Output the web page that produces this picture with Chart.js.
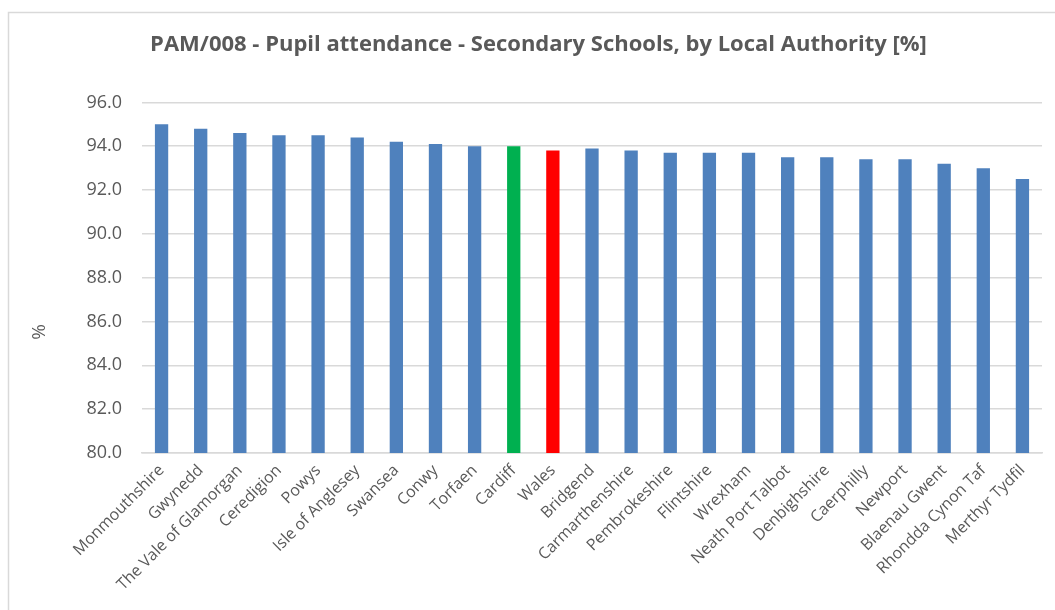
<!DOCTYPE html>
<html lang="en">
<head>
  <meta charset="UTF-8" />
  <title>PAM/008 - Pupil attendance - Secondary Schools</title>
  <script src="https://cdn.jsdelivr.net/npm/chart.js"></script>
  <style>
    body { margin: 0; background: #fff; }
    #wrap { width: 1055px; height: 610px; position: relative; }
  </style>
</head>
<body>
  <div id="wrap"><canvas id="attendanceChart"></canvas></div>

  <script>
    const authorities = [
      'Monmouthshire', 'Gwynedd', 'The Vale of Glamorgan', 'Ceredigion', 'Powys',
      'Isle of Anglesey', 'Swansea', 'Conwy', 'Torfaen', 'Cardiff', 'Wales',
      'Bridgend', 'Carmarthenshire', 'Pembrokeshire', 'Flintshire', 'Wrexham',
      'Neath Port Talbot', 'Denbighshire', 'Caerphilly', 'Newport', 'Blaenau Gwent',
      'Rhondda Cynon Taf', 'Merthyr Tydfil'
    ];
    const attendance = [
      95.0, 94.8, 94.6, 94.5, 94.5, 94.4, 94.2, 94.1, 94.0, 94.0, 93.8,
      93.9, 93.8, 93.7, 93.7, 93.7, 93.5, 93.5, 93.4, 93.4, 93.2, 93.0, 92.5
    ];
    const yTicks = [80, 82, 84, 86, 88, 90, 92, 94, 96];
    const yTitle = '%';

    const barColours = authorities.map(name =>
      name === 'Cardiff' ? '#00B050' : name === 'Wales' ? '#FF0000' : '#4F81BD'
    );

    // grey frame of the chart area + the rotated "%" axis title
    const frame = {
      id: 'frame',
      beforeDraw(chart) {
        const ctx = chart.ctx;
        ctx.save();
        ctx.strokeStyle = '#d9d9d9';
        ctx.lineWidth = 1.5;
        ctx.strokeRect(8.5, 12.5, 1100, 700);
        ctx.restore();
      },
      afterDraw(chart) {
        const ctx = chart.ctx;
        ctx.save();
        ctx.translate(40, 332);
        ctx.rotate(-Math.PI / 2);
        ctx.fillStyle = '#595959';
        ctx.font = '19px "Open Sans"';
        ctx.textAlign = 'center';
        ctx.textBaseline = 'middle';
        ctx.fillText(yTitle, 0, 0);
        ctx.restore();
      }
    };

    new Chart(document.getElementById('attendanceChart'), {
      type: 'bar',
      data: {
        labels: authorities,
        datasets: [{
          data: attendance,
          backgroundColor: barColours,
          barPercentage: 0.34,
          categoryPercentage: 1.0
        }]
      },
      options: {
        responsive: true,
        maintainAspectRatio: false,
        animation: false,
        layout: { padding: { left: 35, right: 13, top: 12, bottom: 0 } },
        plugins: {
          legend: { display: false },
          tooltip: { enabled: false },
          title: {
            display: true,
            text: 'PAM/008 - Pupil attendance - Secondary Schools, by Local Authority [%]',
            color: '#595959',
            font: { family: 'Open Sans', size: 22, weight: 'bold' },
            padding: { top: 20, bottom: 44 }
          }
        },
        scales: {
          x: {
            grid: { display: false },
            border: { display: true, color: '#d9d9d9', width: 1.5 },
            ticks: {
              color: '#595959',
              font: { family: 'Open Sans', size: 16 },
              maxRotation: 45,
              minRotation: 45,
              autoSkip: false,
              padding: 0
            },
            afterFit(scale) { scale.height = 157; }
          },
          y: {
            min: 80,
            max: 96,
            afterBuildTicks(scale) { scale.ticks = yTicks.map(v => ({ value: v })); },
            grid: { color: '#d9d9d9', lineWidth: 1.5, drawTicks: false },
            border: { display: false },
            ticks: {
              color: '#595959',
              font: { family: 'Open Sans', size: 18 },
              padding: 20,
              callback: v => v.toFixed(1)
            },
            afterFit(scale) { scale.width = 107; }
          }
        }
      },
      plugins: [frame]
    });
  </script>
</body>
</html>
